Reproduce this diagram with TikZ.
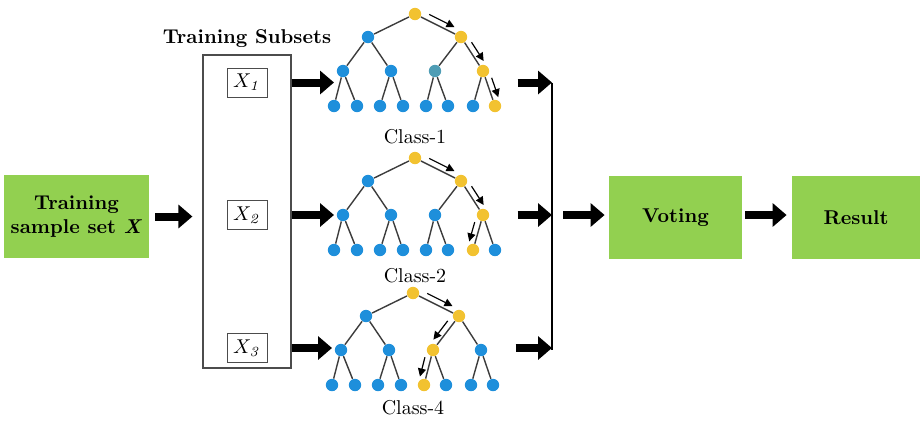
\documentclass[tikz,border=0pt]{standalone}
\usepackage{amsmath}
\usepackage{tikz}
\usetikzlibrary{arrows.meta}
\usetikzlibrary{positioning}
\usetikzlibrary{calc}
\definecolor{boxgreen}{HTML}{92D050}
\definecolor{leafblue}{HTML}{1E8FDB}
\definecolor{pathyel}{HTML}{F2C230}
\definecolor{leafteal}{HTML}{4F9DB5}
\definecolor{edgegray}{HTML}{3C3C3C}
\newcommand{\subsetX}[1]{\ensuremath{X_{\mathit{#1}}}}
% one decision tree: name, root x, root y, path index on level 1/2/3, teal index on level 2
\newcommand{\votetree}[7]{%
  \node[tnode=pathyel] (#1-0-1) at (#2,#3) {};
  \foreach \dx [count=\i] in {-47,46} {
    \ifnum\i=#4\relax\def\clr{pathyel}\else\def\clr{leafblue}\fi
    \node[tnode=\clr] (#1-1-\i) at (#2+\dx,#3+23) {};
    \draw[tedge] (#1-0-1) -- (#1-1-\i);
  }
  \foreach \dx [count=\i] in {-72,-24,20,68} {
    \ifnum\i=#5\relax\def\clr{pathyel}\else
      \ifnum\i=#7\relax\def\clr{leafteal}\else\def\clr{leafblue}\fi\fi
    \pgfmathtruncatemacro{\p}{(\i+1)/2}
    \node[tnode=\clr] (#1-2-\i) at (#2+\dx,#3+57) {};
    \draw[tedge] (#1-1-\p) -- (#1-2-\i);
  }
  \foreach \dx [count=\i] in {-81,-58,-35,-12,11,33,58,80} {
    \ifnum\i=#6\relax\def\clr{pathyel}\else\def\clr{leafblue}\fi
    \pgfmathtruncatemacro{\p}{(\i+1)/2}
    \node[tnode=\clr] (#1-3-\i) at (#2+\dx,#3+92) {};
    \draw[tedge] (#1-2-\p) -- (#1-3-\i);
  }%
}
% small arrow beside an edge of the decision path
\newcommand{\walkarrow}[3]{%
  \draw[walk] ($(#1)!0.25!(#2)!3pt!#3:(#2)$) -- ($(#1)!0.8!(#2)!3pt!#3:(#2)$);%
}

\begin{document}
\begin{tikzpicture}[
  x=0.5pt, y=-0.5pt,
  greenbox/.style 2 args={
    rectangle,
    fill=boxgreen,
    minimum width=#1,
    minimum height=#2,
    align=center,
    font=\bfseries},
  xbox/.style={
    draw=black!70,
    line width=0.5pt,
    minimum width=20pt,
    minimum height=14.5pt,
    inner sep=0pt},
  tnode/.style={
    circle,
    fill=#1,
    minimum size=6.2pt,
    inner sep=0pt},
  tedge/.style={
    draw=edgegray, line width=0.7pt
  },
  walk/.style={
    -{Triangle[length=4pt,width=4pt]}, line width=0.6pt
  },
  fat/.style={
    -{Triangle[length=7pt,width=11.5pt]}, line width=4pt
  },
]
  \useasboundingbox (0,0) rectangle (922,420);

  % input, voting and result
  \node[greenbox={70.5pt}{41.5pt}] (sample) at (76.5,216.5)
      {Training\\sample set \textit{X}};
  \node[greenbox={66.5pt}{41.5pt}] (voting) at (675.5,217.5) {Voting};
  \node[greenbox={64pt}{41.5pt}] (result) at (856,217.5) {Result};

  % training subsets
  \node[draw=black!70, line width=0.6pt, minimum width=44pt,
        minimum height=156.5pt] (subsets) at (247,211.5) {};
  \node[above=0pt of subsets, font=\bfseries] (subtitle) {Training Subsets};
  \node[xbox] (x1) at (247,82.5) {\subsetX{1}};
  \node[xbox] (x2) at (247,215) {\subsetX{2}};
  \node[xbox] (x3) at (247,348) {\subsetX{3}};

  % decision trees
  \votetree{t1}{415}{14}{2}{4}{8}{3}
  \votetree{t2}{415}{158}{2}{4}{7}{0}
  \votetree{t3}{413}{293}{2}{3}{5}{0}

  \walkarrow{t1-0-1}{t1-1-2}{90}
  \walkarrow{t1-1-2}{t1-2-4}{90}
  \walkarrow{t1-2-4}{t1-3-8}{90}
  \walkarrow{t2-0-1}{t2-1-2}{90}
  \walkarrow{t2-1-2}{t2-2-4}{90}
  \walkarrow{t2-2-4}{t2-3-7}{-90}
  \walkarrow{t3-0-1}{t3-1-2}{90}
  \walkarrow{t3-1-2}{t3-2-3}{-90}
  \walkarrow{t3-2-3}{t3-3-5}{-90}

  \node (cls1) at (415,137) {Class-1};
  \node (cls2) at (415,276) {Class-2};
  \node (cls4) at (413,408) {Class-4};

  % connectors
  \coordinate (bus1) at (552,82.5);
  \coordinate (bus2) at (552,215);
  \coordinate (bus3) at (552,350);

  \draw[fat, shorten <=3pt, shorten >=5pt]
      (sample.east) -- (sample.east -| subsets.west);
  \draw[fat] (subsets.east |- x1) -- (x1 -| t1-3-1);
  \draw[fat] (subsets.east |- x2) -- (x2 -| t2-3-1);
  \draw[fat] (subsets.east |- x3) -- (x3 -| t3-3-1);

  \draw[fat] ($(t1-3-8.east |- bus1)+(8pt,0)$) -- (bus1);
  \draw[fat] ($(t2-3-8.east |- bus2)+(8pt,0)$) -- (bus2);
  \draw[fat] ($(t3-3-8.east |- x3)+(8pt,0)$) -- (bus1 |- x3);
  \draw[line width=1pt] (bus1) -- (bus3);

  \draw[fat, shorten <=5.5pt, shorten >=2pt] (bus2) -- (bus2 -| voting.west);
  \draw[fat, shorten <=1.5pt, shorten >=2.5pt]
      (voting.east |- bus2) -- (bus2 -| result.west);

\end{tikzpicture}
\end{document}
